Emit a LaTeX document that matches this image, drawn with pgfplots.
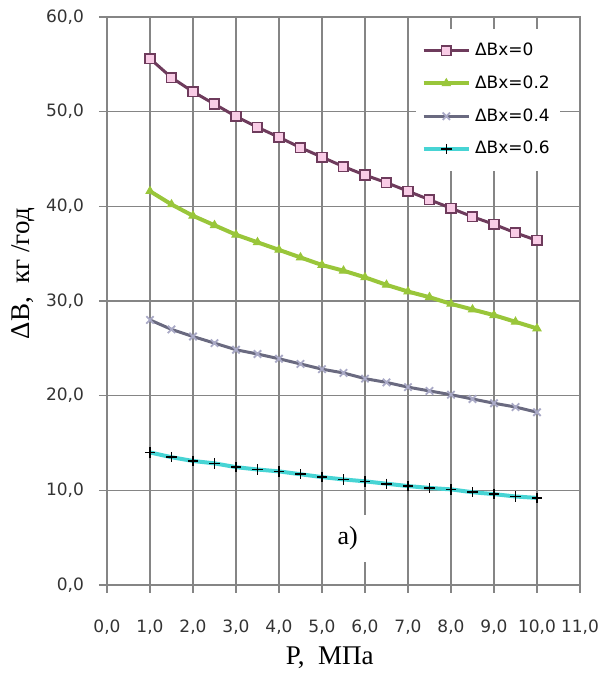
\documentclass[border=0pt]{standalone}
\usepackage{fontspec}
\setmainfont{Liberation Serif}
\newfontfamily\tickfont{DejaVu Sans}
\usepackage{pgfplots}
\pgfplotsset{compat=1.18}
\usepackage{pgfplotstable}
\definecolor{cmaroon}{HTML}{6E3B5C}
\definecolor{cpink}{HTML}{F9CCE6}
\definecolor{cgreen}{HTML}{99C63A}
\definecolor{cgray}{HTML}{6A6A80}
\definecolor{cxmark}{HTML}{A9A9C6}
\definecolor{ccyan}{HTML}{47D4D4}
\definecolor{cgrid}{HTML}{858585}

% P, MPa  |  dB for dBx = 0, 0.2, 0.4, 0.6
\pgfplotstableread{
P    b0    b2    b4    b6
1.0  55.6  41.6  28.0  14.0
1.5  53.6  40.2  27.0  13.5
2.0  52.1  39.0  26.25 13.1
2.5  50.8  38.0  25.55 12.85
3.0  49.5  37.0  24.85 12.45
3.5  48.35 36.2  24.4  12.2
4.0  47.3  35.4  23.9  12.0
4.5  46.2  34.6  23.35 11.7
5.0  45.2  33.8  22.8  11.4
5.5  44.2  33.2  22.4  11.15
6.0  43.3  32.5  21.8  10.95
6.5  42.5  31.7  21.4  10.7
7.0  41.6  31.0  20.9  10.45
7.5  40.7  30.4  20.5  10.25
8.0  39.8  29.7  20.1  10.1
8.5  38.9  29.1  19.65 9.8
9.0  38.1  28.5  19.2  9.6
9.5  37.2  27.8  18.8  9.35
10.0 36.4  27.1  18.25 9.2
}\data

\begin{document}
\begin{tikzpicture}
\path[use as bounding box] (-53.5pt,-50.5pt) rectangle (247.5pt,292.5pt);
\begin{axis}[
  scale only axis,
  width=236.5pt, height=284pt,
  xmin=0, xmax=11, ymin=0, ymax=60,
  xtick={0,1,...,11}, ytick={0,10,...,60},
  xmajorgrids, ymajorgrids,
  major grid style={draw=cgrid, line width=0.8pt},
  axis line style={draw=cgrid, line width=0.8pt},
  every tick/.style={draw=cgrid, line width=0.8pt},
  tick align=outside, major tick length=4pt,
  xtick pos=left, ytick pos=left,
  xticklabel style={yshift=-10pt},
  yticklabel style={xshift=-4pt},
  ticklabel style={font=\tickfont\fontsize{8.5}{10}\selectfont, text=black!80},
  xticklabel={\pgfmathprintnumber[fixed,fixed zerofill,precision=1,use comma,assume math mode=true]{\tick}},
  yticklabel={\pgfmathprintnumber[fixed,fixed zerofill,precision=1,use comma,assume math mode=true]{\tick}},
  xlabel={P,\ \ МПа},
  ylabel={ΔB,\ \ кг /год},
  label style={font=\fontsize{13.5}{16}\selectfont},
  xlabel style={at={(axis description cs:0.471,-0.1285)}, anchor=center},
  ylabel style={at={(axis description cs:-0.1776,0.548)}, anchor=center},
  legend style={at={(axis description cs:0.958,0.98)}, anchor=north east,
    draw=none, fill=white, font=\tickfont\fontsize{8.5}{10}\selectfont,
    row sep=4.6pt, inner xsep=3pt, inner ysep=5pt},
  legend cell align=left,
  legend image code/.code={%
    \draw[mark repeat=2,mark phase=2] plot coordinates {(0cm,0cm) (0.4cm,0cm) (0.8cm,0cm)};},
]
\addplot[cmaroon, line width=1.5pt, mark=square*, mark size=2.4pt,
  mark options={fill=cpink, draw=cmaroon, line width=0.8pt}] table[x=P,y=b0] {\data};
\addlegendentry{ΔBx=0}
\addplot[cgreen, line width=2pt, mark=triangle*, mark size=2.3pt,
  mark options={fill=cgreen, draw=cgreen, line width=0.5pt}] table[x=P,y=b2] {\data};
\addlegendentry{ΔBx=0.2}
\addplot[cgray, line width=1.5pt, mark=x, mark size=2.6pt,
  mark options={draw=cxmark, line width=0.9pt}] table[x=P,y=b4] {\data};
\addlegendentry{ΔBx=0.4}
\addplot[ccyan, line width=2pt, mark=+, mark size=2.6pt,
  mark options={draw=black, line width=0.8pt}] table[x=P,y=b6] {\data};
\addlegendentry{ΔBx=0.6}
\node[fill=white, minimum width=22pt, minimum height=23.5pt,
  font=\fontsize{13}{15}\selectfont] at (axis cs:5.6,4.95) {a)};
\end{axis}
\end{tikzpicture}
\end{document}
